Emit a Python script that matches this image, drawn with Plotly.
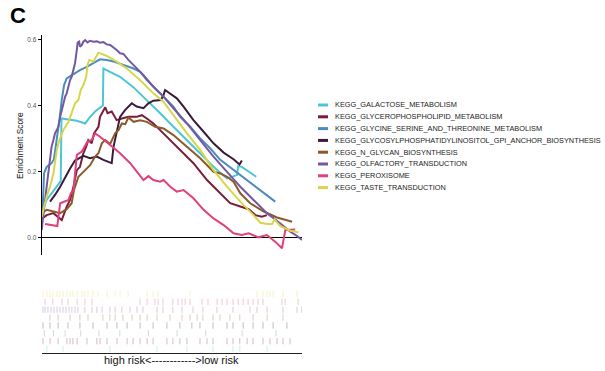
import plotly.graph_objects as go

W, H = 605, 371

# ---- gene-set names and colours ----
set_names = [
    "KEGG_GALACTOSE_METABOLISM",
    "KEGG_GLYCEROPHOSPHOLIPID_METABOLISM",
    "KEGG_GLYCINE_SERINE_AND_THREONINE_METABOLISM",
    "KEGG_GLYCOSYLPHOSPHATIDYLINOSITOL_GPI_ANCHOR_BIOSYNTHESIS",
    "KEGG_N_GLYCAN_BIOSYNTHESIS",
    "KEGG_OLFACTORY_TRANSDUCTION",
    "KEGG_PEROXISOME",
    "KEGG_TASTE_TRANSDUCTION",
]
set_colors = ["#4cc6d6", "#7a1c3a", "#4a8cc0", "#3b1b3c",
              "#8b5a2b", "#7459a0", "#e0407c", "#d6d64a"]

# ---- running enrichment scores (x = rank position in %, y = ES) ----
galactose_x = [0.4, 1.9, 3.8, 5.8, 7.3, 7.6, 9.6, 13.5, 16.7, 18.6, 20.5, 23.1, 23.5, 23.7,
               26.3, 30.1, 35.3, 40.4, 45.5, 50.6, 55.8, 60.9, 66.0, 71.2, 75.0, 75.5, 76.9, 82.4]
galactose_y = [0.085, 0.115, 0.135, 0.155, 0.172, 0.361, 0.358, 0.354, 0.346, 0.366, 0.382, 0.397, 0.400, 0.512,
               0.502, 0.487, 0.455, 0.417, 0.377, 0.336, 0.296, 0.256, 0.215, 0.180, 0.190, 0.217, 0.215, 0.185]

glycero_x = [0.4, 1.9, 4.5, 7.7, 9.6, 10.9, 12.2, 13.5, 14.7, 16.0, 17.1, 17.9, 19.2, 20.1, 21.8, 22.4,
             24.4, 25.3, 26.9, 28.8, 30.8, 33.3, 36.5, 38.5, 40.4, 42.9, 45.5, 49.4, 53.2, 58.3, 63.5,
             67.3, 72.4, 76.3, 79.5, 82.1, 84.6, 86.5]
glycero_y = [0.060, 0.069, 0.075, 0.054, 0.095, 0.115, 0.155, 0.205, 0.215, 0.256, 0.276, 0.296, 0.286, 0.316,
             0.336, 0.366, 0.395, 0.377, 0.382, 0.356, 0.361, 0.366, 0.366, 0.371, 0.361, 0.346, 0.326, 0.296,
             0.266, 0.226, 0.175, 0.145, 0.105, 0.095, 0.087, 0.069, 0.064, 0.069]

glycine_x = [0.3, 0.9, 1.9, 3.8, 4.7, 5.8, 6.8, 7.7, 8.6, 9.6, 11.5, 14.7, 17.3, 19.9, 22.4, 25.0, 27.6,
             31.4, 35.3, 37.8, 40.4, 44.2, 48.1, 50.6, 53.2, 57.1, 60.9, 64.7, 68.6, 73.7, 78.8, 84.0, 89.7]
glycine_y = [0.075, 0.195, 0.215, 0.226, 0.238, 0.296, 0.356, 0.417, 0.462, 0.482, 0.492, 0.507, 0.517,
             0.530, 0.540, 0.538, 0.533, 0.523, 0.512, 0.502, 0.477, 0.447, 0.417, 0.397, 0.366, 0.336,
             0.301, 0.271, 0.236, 0.205, 0.175, 0.145, 0.110]

gpi_x = [3.2, 5.1, 7.1, 9.0, 10.9, 12.8, 16.0, 18.6, 21.2, 23.7, 26.9, 27.6, 28.8, 30.1, 32.1, 34.6,
         36.5, 39.1, 41.0, 42.9, 45.8, 46.8, 47.4, 49.4, 51.9, 54.5, 58.3, 62.2, 66.0, 69.9, 73.7, 76.0, 76.9]
gpi_y = [0.110, 0.130, 0.155, 0.185, 0.210, 0.234, 0.248, 0.241, 0.246, 0.236, 0.226, 0.276, 0.316,
         0.366, 0.387, 0.407, 0.397, 0.392, 0.407, 0.415, 0.417, 0.432, 0.447, 0.435, 0.422, 0.397,
         0.356, 0.321, 0.286, 0.258, 0.238, 0.222, 0.234]

nglycan_x = [0.0, 1.9, 4.5, 7.1, 9.6, 11.5, 12.4, 14.1, 16.7, 18.6, 20.5, 21.8, 23.1, 24.4, 26.3, 28.2,
             29.5, 30.8, 32.1, 33.3, 35.3, 37.8, 40.4, 43.6, 46.8, 50.6, 55.8, 60.9, 66.0, 68.6, 71.2,
             73.7, 76.3, 80.1, 85.3, 90.4, 96.2]
nglycan_y = [0.075, 0.085, 0.080, 0.075, 0.087, 0.105, 0.145, 0.185, 0.205, 0.220, 0.246, 0.256, 0.286,
             0.296, 0.284, 0.316, 0.326, 0.346, 0.344, 0.364, 0.351, 0.356, 0.351, 0.336, 0.331, 0.311,
             0.276, 0.241, 0.200, 0.195, 0.185, 0.170, 0.135, 0.105, 0.080, 0.062, 0.049]

olfactory_x = [0.0, 0.6, 1.3, 1.9, 2.6, 3.2, 3.8, 4.5, 5.1, 5.8, 6.4, 7.1, 7.7, 8.3, 9.0, 9.6, 10.3,
               10.9, 11.5, 12.2, 12.8, 13.5, 13.8, 14.4, 14.7, 15.4, 16.0, 16.7, 17.6, 18.6, 19.9, 21.2,
               22.4, 23.7, 25.0, 26.3, 27.6, 28.8, 30.1, 31.4, 33.3, 35.3, 39.1, 42.9, 46.8, 50.6, 55.8,
               60.9, 66.0, 71.2, 76.3, 81.4, 86.5, 91.7, 95.5, 98.1, 100.0]
olfactory_y = [0.024, 0.075, 0.115, 0.155, 0.205, 0.246, 0.276, 0.296, 0.316, 0.326, 0.336, 0.366, 0.387,
               0.407, 0.427, 0.437, 0.462, 0.477, 0.487, 0.507, 0.528, 0.568, 0.590, 0.593, 0.578, 0.583,
               0.593, 0.598, 0.591, 0.596, 0.593, 0.594, 0.590, 0.592, 0.585, 0.583, 0.576, 0.568, 0.558,
               0.556, 0.538, 0.523, 0.492, 0.457, 0.427, 0.392, 0.346, 0.296, 0.246, 0.200, 0.155, 0.115,
               0.075, 0.044, 0.019, 0.006, -0.006]

peroxisome_x = [1.3, 6.0, 7.1, 9.0, 10.3, 11.2, 12.2, 13.5, 15.4, 17.6, 19.2, 20.5, 22.4, 26.3, 30.1,
                34.0, 37.2, 39.1, 41.0, 42.9, 45.5, 46.8, 49.4, 51.9, 54.5, 58.3, 62.2, 66.0, 69.9,
                73.7, 76.9, 79.5, 83.3, 86.5, 89.7, 92.3, 93.6, 97.4]
peroxisome_y = [0.042, 0.036, 0.105, 0.110, 0.115, 0.135, 0.145, 0.251, 0.261, 0.291, 0.296, 0.316,
                0.306, 0.281, 0.256, 0.226, 0.195, 0.175, 0.187, 0.175, 0.170, 0.175, 0.155, 0.140,
                0.145, 0.120, 0.085, 0.059, 0.039, 0.014, 0.009, 0.014, 0.002, 0.009, -0.011, -0.031,
                0.024, 0.026]

taste_x = [0.0, 0.6, 1.9, 3.2, 4.5, 5.8, 6.8, 8.3, 10.3, 11.5, 12.8, 14.1, 15.0, 16.0, 17.1, 17.6,
           18.3, 19.9, 20.9, 21.8, 25.0, 28.8, 32.7, 37.8, 42.9, 46.8, 50.6, 55.8, 60.9, 66.0, 71.2,
           76.3, 81.4, 84.0, 86.5, 88.5, 89.4, 91.7, 95.5, 98.7]
taste_y = [0.064, 0.085, 0.125, 0.155, 0.195, 0.266, 0.296, 0.326, 0.351, 0.377, 0.407, 0.417, 0.447,
           0.462, 0.487, 0.523, 0.538, 0.533, 0.548, 0.560, 0.550, 0.533, 0.512, 0.477, 0.437, 0.412,
           0.371, 0.316, 0.266, 0.205, 0.155, 0.110, 0.069, 0.046, 0.042, 0.042, 0.056, 0.036, 0.022,
           0.017]

curves_x = [galactose_x, glycero_x, glycine_x, gpi_x, nglycan_x, olfactory_x, peroxisome_x, taste_x]
curves_y = [galactose_y, glycero_y, glycine_y, gpi_y, nglycan_y, olfactory_y, peroxisome_y, taste_y]

# ---- hit positions of each gene set in the ranked list (%) ----
galactose_hits = [2.0, 8.2, 26.2, 44.3, 55.8, 65.8, 73.5, 76.1, 86.6]
glycero_hits = [0.5, 3.2, 6.3, 9.7, 10.9, 12.0, 13.6, 17.4, 21.2, 22.4, 25.1, 28.9, 32.8, 35.1, 37.8,
                40.5, 42.8, 48.1, 50.4, 53.1, 55.8, 60.8, 63.5, 65.8, 71.2, 73.5, 76.1, 78.9, 81.2,
                85.0, 87.7, 90.4, 92.7, 95.4]
glycine_hits = [1.0, 4.5, 9.0, 15.0, 22.0, 30.0, 41.0, 52.0, 63.0, 77.0, 90.0]
gpi_hits = [0.5, 3.2, 6.3, 10.1, 14.7, 19.7, 25.1, 28.9, 32.8, 37.8, 42.8, 48.1, 53.1, 57.7, 60.8,
            65.8, 71.2, 73.5, 77.4, 81.2, 85.0, 88.9, 94.2]
nglycan_hits = [3.2, 6.3, 10.9, 14.7, 17.8, 23.5, 26.2, 28.2, 31.2, 34.7, 37.8, 40.5, 44.3, 49.3,
                53.9, 57.0, 59.7, 61.9, 65.8, 68.5, 72.3, 76.1, 81.2, 86.6, 92.7]
olfactory_hits = [0.5, 1.3, 2.4, 3.6, 4.7, 5.9, 7.0, 8.2, 9.3, 10.5, 11.6, 12.8, 13.9, 16.6, 19.3,
                  21.2, 23.2, 26.2, 28.2, 30.8, 33.9, 36.6, 38.9, 44.3, 46.6, 50.4, 53.9, 58.1, 61.9,
                  67.3, 73.5, 80.0, 82.7, 86.6, 92.7, 98.1, 99.9]
peroxisome_hits = [1.3, 4.3, 7.8, 10.1, 13.6, 16.6, 19.3, 37.8, 40.5, 43.5, 44.7, 46.6, 50.4, 52.4,
                   53.9, 55.1, 57.0, 61.6, 63.9, 67.4, 69.3, 71.2, 73.5, 75.5, 77.4, 79.3, 81.2, 83.1,
                   85.0, 92.3, 93.5, 98.5]
taste_hits = [0.5, 2.0, 3.2, 4.3, 5.9, 7.0, 8.2, 9.7, 10.9, 12.0, 13.6, 15.5, 16.6, 17.8, 19.7, 21.6,
              25.1, 28.2, 30.1, 33.2, 40.5, 42.8, 44.7, 57.0, 82.7, 85.0, 86.6, 87.7, 88.9, 92.7, 98.1]

hits = [galactose_hits, glycero_hits, glycine_hits, gpi_hits, nglycan_hits,
        olfactory_hits, peroxisome_hits, taste_hits]

y_ticks = [0.0, 0.2, 0.4, 0.6]
x_label = "high risk<------------>low risk"

# ---- layout geometry (pixels) ----
x0_px, x1_px = 41.7, 302.0
es_top_px, es_bot_px = 35.0, 255.0
bc_top_px, bc_bot_px = 290.0, 353.0


def px_x(p):
    return p / W


def px_y(p):
    return 1 - p / H


fig = go.Figure()

# running enrichment score curves
for name, col, xs, ys in zip(set_names, set_colors, curves_x, curves_y):
    fig.add_trace(go.Scatter(x=xs, y=ys, mode="lines", name=name,
                             line=dict(color=col, width=2), showlegend=False,
                             xaxis="x", yaxis="y"))

# barcode rows: first set at the bottom, last set at the top
n = len(set_names)
for i, (col, hs) in enumerate(zip(set_colors, hits)):
    xs, ys = [], []
    for h in hs:
        xs += [h, h, None]
        ys += [i + 0.1, i + 0.9, None]
    fig.add_trace(go.Scatter(x=xs, y=ys, mode="lines", line=dict(color=col, width=1),
                             opacity=0.3, showlegend=False, xaxis="x2", yaxis="y2"))

fig.update_layout(
    width=W, height=H,
    margin=dict(l=0, r=0, t=0, b=0),
    paper_bgcolor="white", plot_bgcolor="white",
    font=dict(family="Liberation Sans, Arial, sans-serif", color="#222"),
    showlegend=False,
    xaxis=dict(domain=[px_x(x0_px), px_x(x1_px)], range=[0, 100], visible=False),
    yaxis=dict(domain=[px_y(es_bot_px), px_y(es_top_px)], range=[-0.0514, 0.6133],
               showline=True, linecolor="black", linewidth=1, showgrid=False,
               zeroline=True, zerolinecolor="black", zerolinewidth=1,
               ticks="outside", ticklen=3, tickcolor="black", tickwidth=1,
               tickvals=y_ticks, ticktext=[f"{v:.1f}" for v in y_ticks],
               tickfont=dict(size=6.5, color="#555"), automargin=False),
    xaxis2=dict(domain=[px_x(x0_px), px_x(x1_px)], range=[0, 100], anchor="y2",
                showline=True, linecolor="#222", linewidth=1, showgrid=False,
                zeroline=False, showticklabels=False, ticks=""),
    yaxis2=dict(domain=[px_y(bc_bot_px), px_y(bc_top_px)], range=[0, n], anchor="x2",
                visible=False),
)

annotations = [
    dict(text="<b>C</b>", x=px_x(8), y=px_y(16), xanchor="left", yanchor="middle",
         font=dict(size=22, color="black")),
    dict(text="Enrichment Score", x=px_x(20), y=px_y(146), textangle=-90,
         xanchor="center", yanchor="middle", font=dict(size=8.4, color="#111")),
    dict(text=x_label, x=px_x((x0_px + x1_px) / 2), y=px_y(360),
         xanchor="center", yanchor="middle", font=dict(size=11, color="#111")),
]

# legend drawn as colour keys with labels
shapes = []
for i, (name, col) in enumerate(zip(set_names, set_colors)):
    yy = px_y(105 + i * 11.8)
    shapes.append(dict(type="line", xref="paper", yref="paper",
                       x0=px_x(318), x1=px_x(328), y0=yy, y1=yy,
                       line=dict(color=col, width=3)))
    annotations.append(dict(text=name, x=px_x(333), y=yy, xanchor="left", yanchor="middle",
                            font=dict(size=7.35, color="#222")))

for a in annotations:
    a.update(xref="paper", yref="paper", showarrow=False)

fig.update_layout(annotations=annotations, shapes=shapes)

fig.write_html("out.html")
